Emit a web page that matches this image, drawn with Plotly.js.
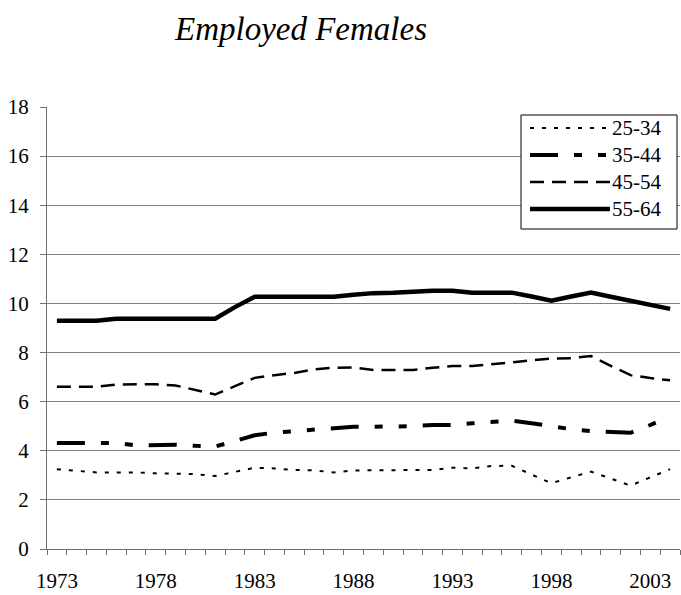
<!DOCTYPE html>
<html>
<head>
<meta charset="utf-8">
<script src="https://cdn.plot.ly/plotly-3.0.1.min.js"></script>
<style>html,body{margin:0;padding:0;background:#fff}#chart{width:681px;height:595px}</style>
</head>
<body>
<div id="chart"></div>
<script>
// ---- data ----
const years = [1973,1974,1975,1976,1977,1978,1979,1980,1981,1982,1983,1984,1985,1986,1987,1988,
               1989,1990,1991,1992,1993,1994,1995,1996,1997,1998,1999,2000,2001,2002,2003,2004];
const seriesNames = ["25-34","35-44","45-54","55-64"];
const age25_34 = [3.25,3.17,3.12,3.12,3.12,3.08,3.07,3.05,2.97,3.14,3.31,3.28,3.22,3.2,3.12,3.2,
                  3.2,3.2,3.2,3.22,3.31,3.28,3.38,3.39,3.03,2.68,2.92,3.15,2.87,2.58,2.92,3.25];
const age35_44 = [4.32,4.32,4.32,4.32,4.22,4.25,4.25,4.2,4.17,4.4,4.63,4.74,4.8,4.88,4.95,4.98,
                  4.98,4.98,5.0,5.05,5.05,5.12,5.18,5.23,5.12,4.98,4.88,4.8,4.78,4.73,5.05,5.4];
const age45_54 = [6.61,6.61,6.61,6.7,6.71,6.71,6.66,6.47,6.29,6.63,6.97,7.08,7.17,7.32,7.38,7.39,
                  7.29,7.29,7.29,7.38,7.45,7.45,7.52,7.6,7.68,7.76,7.77,7.86,7.46,7.08,6.96,6.87];
const age55_64 = [9.3,9.3,9.3,9.38,9.38,9.38,9.38,9.38,9.38,9.85,10.27,10.27,10.27,10.27,10.27,10.35,
                  10.42,10.44,10.5,10.52,10.52,10.44,10.44,10.44,10.28,10.11,10.28,10.44,10.27,10.1,9.94,9.78];
const xTickYears = [1973,1978,1983,1988,1993,1998,2003];
const chartTitle = "Employed Females";

// ---- styles ----
const W = 681, H = 595;
const M = {l: 47, r: 1, t: 107, b: 46};
const styles = [
  {dash: "4px,8px", width: 2},
  {dash: "28px,16px,8px,16px,8px,16px", width: 4},
  {dash: "14px,8px", width: 2.5},
  {dash: "solid", width: 4.5}
];
const values = [age25_34, age35_44, age45_54, age55_64];
const FONT = "Liberation Serif";

const traces = values.map((v, i) => ({
  type: "scatter", mode: "lines", name: seriesNames[i],
  x: years, y: v,
  line: {color: "#000", width: styles[i].width, dash: styles[i].dash, shape: "linear"},
  hoverinfo: "skip", showlegend: false
}));

// custom legend (pixel placements converted to paper coords)
const pw = W - M.l - M.r, ph = H - M.t - M.b;
const px = x => (x - M.l) / pw;
const py = y => (H - M.b - y) / ph;
const shapes = [{
  type: "rect", xref: "paper", yref: "paper",
  x0: px(521), x1: px(677), y0: py(115), y1: py(229),
  line: {color: "#000", width: 1}, fillcolor: "#fff", layer: "above"
}];
const annotations = [];
const rowY = [128, 155, 182, 209];
seriesNames.forEach((n, i) => {
  shapes.push({
    type: "line", xref: "paper", yref: "paper",
    x0: px(530), x1: px(610), y0: py(rowY[i]), y1: py(rowY[i]),
    line: {color: "#000", width: styles[i].width, dash: styles[i].dash}, layer: "above"
  });
  annotations.push({
    xref: "paper", yref: "paper", x: px(610), y: py(rowY[i]),
    xanchor: "left", yanchor: "middle", text: n, showarrow: false,
    font: {family: FONT, size: 21, color: "#000"}
  });
});

const layout = {
  width: W, height: H,
  margin: M,
  paper_bgcolor: "#fff", plot_bgcolor: "#fff",
  font: {family: FONT, size: 21, color: "#000"},
  title: {
    text: "<i>" + chartTitle + "</i>",
    font: {family: FONT, size: 33, color: "#000"},
    xref: "container", x: 301 / W, xanchor: "center",
    yref: "container", y: 1 - 28 / H, yanchor: "middle"
  },
  xaxis: {
    type: "linear", range: [1972.5, 2004.5],
    tickmode: "array", tickvals: xTickYears, ticktext: xTickYears.map(String),
    ticks: "", showgrid: false, zeroline: false,
    showline: true, linecolor: "#6e6e6e", linewidth: 1,
    ticklabelstandoff: 13,
    tickfont: {family: FONT, size: 21, color: "#000"},
    minor: {tick0: 1972.5, dtick: 1, ticks: "outside", ticklen: 5, tickcolor: "#6e6e6e", tickwidth: 1, showgrid: false}
  },
  yaxis: {
    range: [0, 18], tickmode: "linear", tick0: 0, dtick: 2,
    ticks: "outside", ticklen: 6, tickcolor: "#6e6e6e", tickwidth: 1,
    showgrid: true, gridcolor: "#808080", gridwidth: 1,
    zeroline: false, showline: true, linecolor: "#6e6e6e", linewidth: 1,
    ticklabelstandoff: 7,
    tickfont: {family: FONT, size: 21, color: "#000"}
  },
  shapes: shapes,
  annotations: annotations,
  showlegend: false
};

Plotly.newPlot("chart", traces, layout, {displayModeBar: false, staticPlot: true});
</script>
</body>
</html>
